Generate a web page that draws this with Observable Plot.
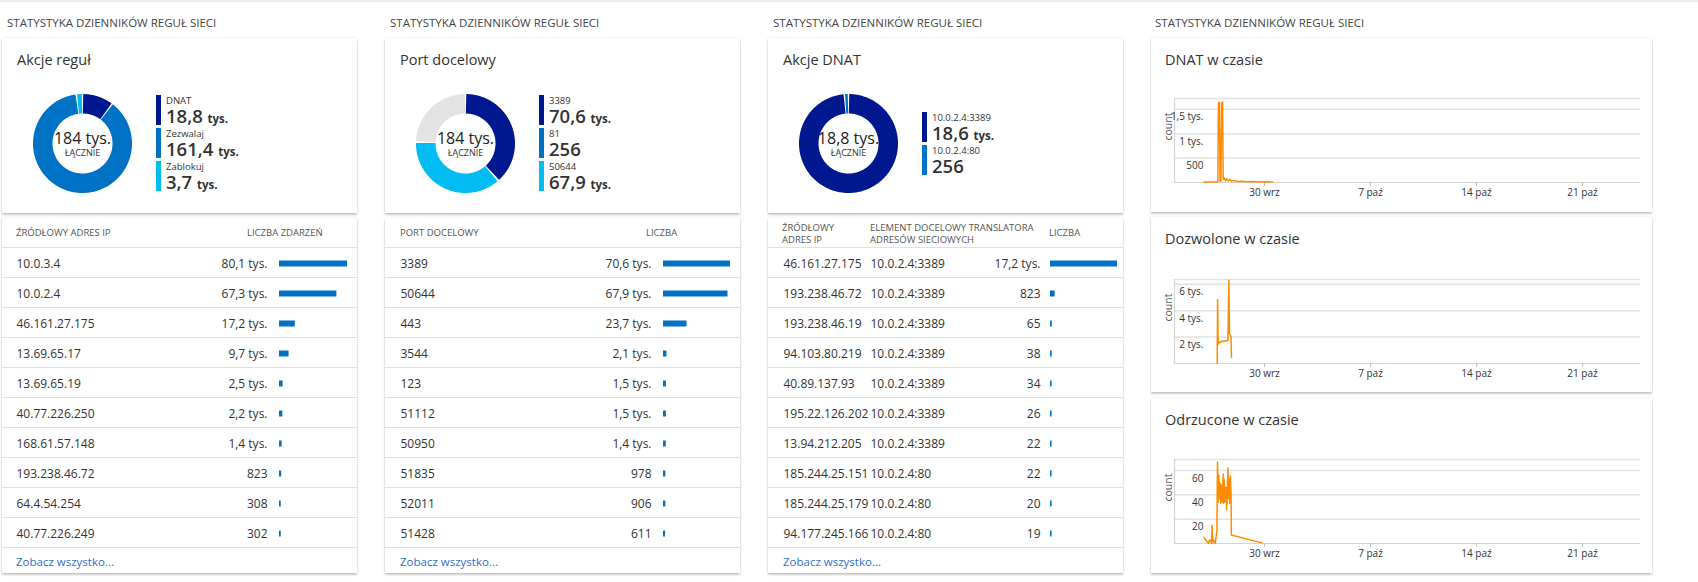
<!DOCTYPE html>
<html><head><meta charset="utf-8">
<script src="https://cdn.jsdelivr.net/npm/d3@7"></script>
<script src="https://cdn.jsdelivr.net/npm/@observablehq/plot@0.6"></script>
<style>
body{margin:0;background:#fff;font-family:"Open Sans",sans-serif;color:#333;}
#page{position:relative;width:1698px;height:582px;overflow:hidden;}
#topline{position:absolute;left:0;top:0;width:1698px;height:2px;background:#ececec}
.sec{position:absolute;font-size:11.5px;line-height:16px;color:#454545;white-space:nowrap}
.card{position:absolute;background:#fff;box-shadow:0 0 2px rgba(0,0,0,0.12),0 1.5px 2px rgba(0,0,0,0.2)}
.ctitle{position:absolute;font-size:14.5px;line-height:20px;color:#333;white-space:nowrap}
.hdr{position:absolute;font-size:9.5px;line-height:12px;color:#555;white-space:nowrap}
.link{position:absolute;font-size:11.5px;line-height:16px;color:#2f6fcf;white-space:nowrap}
.leg{position:absolute;height:30px;border-left:5px solid;padding-left:5px;box-sizing:border-box;white-space:nowrap}
.leg .l{font-size:9.5px;line-height:12px;color:#333}
.leg .v{font-size:18.5px;line-height:18px;font-weight:600;color:#333}
.leg .u{font-size:11.5px;font-weight:700}
.plot{position:absolute}
</style></head>
<body><div id="page"><div id="topline"></div></div>
<script>
// ---------- DATA ----------
const sectionTitle = "STATYSTYKA DZIENNIKÓW REGUŁ SIECI";
const totalWord = "ŁĄCZNIE";
const linkText = "Zobacz wszystko...";

// donut 1: Akcje reguł
const dn1Title = "Akcje reguł";
const dn1Labels = ["DNAT", "Zezwalaj", "Zablokuj"];
const dn1Values = [18836, 161400, 3700];
const dn1Colors = ["#00188f", "#0072c6", "#00bcf2"];

// donut 2: Port docelowy (last slice = others, not in legend)
const dn2Title = "Port docelowy";
const dn2Labels = ["3389", "81", "50644", "inne"];
const dn2Values = [70600, 256, 67900, 45180];
const dn2Colors = ["#00188f", "#0072c6", "#00bcf2", "#e3e3e3"];
const dn2LegendCount = 3;

// donut 3: Akcje DNAT
const dn3Title = "Akcje DNAT";
const dn3Labels = ["10.0.2.4:3389", "10.0.2.4:80"];
const dn3Values = [18580, 256];
const dn3Colors = ["#00188f", "#0072c6"];

// table 1
const t1Headers = ["ŹRÓDŁOWY ADRES IP", "LICZBA ZDARZEŃ"];
const t1Names = ["10.0.3.4", "10.0.2.4", "46.161.27.175", "13.69.65.17", "13.69.65.19", "40.77.226.250", "168.61.57.148", "193.238.46.72", "64.4.54.254", "40.77.226.249"];
const t1Values = [80100, 67300, 17200, 9700, 2500, 2200, 1400, 823, 308, 302];

// table 2
const t2Headers = ["PORT DOCELOWY", "LICZBA"];
const t2Names = ["3389", "50644", "443", "3544", "123", "51112", "50950", "51835", "52011", "51428"];
const t2Values = [70600, 67900, 23700, 2100, 1500, 1500, 1400, 978, 906, 611];

// table 3
const t3Headers = ["ŹRÓDŁOWY<br>ADRES IP", "ELEMENT DOCELOWY TRANSLATORA<br>ADRESÓW SIECIOWYCH", "LICZBA"];
const t3Src = ["46.161.27.175", "193.238.46.72", "193.238.46.19", "94.103.80.219", "40.89.137.93", "195.22.126.202", "13.94.212.205", "185.244.25.151", "185.244.25.179", "94.177.245.166"];
const t3Dst = ["10.0.2.4:3389", "10.0.2.4:3389", "10.0.2.4:3389", "10.0.2.4:3389", "10.0.2.4:3389", "10.0.2.4:3389", "10.0.2.4:3389", "10.0.2.4:80", "10.0.2.4:80", "10.0.2.4:80"];
const t3Values = [17200, 823, 65, 38, 34, 26, 22, 22, 20, 19];

// time series
const xDomain = ["2018-09-24T01:20", "2018-10-24T20:00"];
const xTicks = ["2018-09-30T00:00", "2018-10-07T00:00", "2018-10-14T00:00", "2018-10-21T00:00"];
const monthNames = ["sty", "lut", "mar", "kwi", "maj", "cze", "lip", "sie", "wrz", "paź", "lis", "gru"];

const ts1Title = "DNAT w czasie";
const ts1Times = ["2018-09-26T00:00", "2018-09-26T12:00", "2018-09-26T22:00", "2018-09-26T23:00", "2018-09-27T00:30", "2018-09-27T01:30", "2018-09-27T03:00", "2018-09-27T04:00", "2018-09-27T05:30", "2018-09-27T06:30", "2018-09-27T08:00", "2018-09-27T10:00", "2018-09-27T12:00", "2018-09-27T14:00", "2018-09-27T17:00", "2018-09-27T20:00", "2018-09-28T00:00", "2018-09-28T06:00", "2018-09-28T12:00", "2018-09-28T20:00", "2018-09-29T06:00", "2018-09-29T16:00", "2018-09-30T04:00", "2018-09-30T13:00"];
const ts1Values = [8, 10, 12, 1630, 1640, 20, 30, 1620, 1650, 70, 95, 40, 80, 35, 60, 30, 40, 20, 25, 15, 20, 12, 15, 10];
const ts1YTicks = [500, 1000, 1500];
const ts1YMax = 1720;

const ts2Title = "Dozwolone w czasie";
const ts2Times = ["2018-09-26T21:00", "2018-09-26T21:40", "2018-09-26T22:30", "2018-09-27T00:00", "2018-09-27T02:00", "2018-09-27T04:00", "2018-09-27T06:00", "2018-09-27T08:00", "2018-09-27T10:00", "2018-09-27T12:00", "2018-09-27T14:00", "2018-09-27T15:30", "2018-09-27T16:30", "2018-09-27T18:00", "2018-09-27T19:00", "2018-09-27T19:40"];
const ts2Values = [0, 4850, 1450, 1620, 1580, 1700, 1650, 1720, 1680, 1760, 1750, 6300, 2250, 2150, 2000, 480];
const ts2YTicks = [2000, 4000, 6000];
const ts2YMax = 6360;

const ts3Title = "Odrzucone w czasie";
const ts3Times = ["2018-09-26T00:00", "2018-09-26T07:00", "2018-09-26T09:00", "2018-09-26T12:00", "2018-09-26T13:00", "2018-09-26T14:00", "2018-09-26T15:00", "2018-09-26T17:00", "2018-09-26T18:00", "2018-09-26T19:30", "2018-09-26T20:30", "2018-09-26T21:30", "2018-09-26T22:30", "2018-09-26T23:30", "2018-09-27T00:30", "2018-09-27T01:30", "2018-09-27T02:30", "2018-09-27T03:30", "2018-09-27T05:00", "2018-09-27T06:30", "2018-09-27T07:00", "2018-09-27T08:00", "2018-09-27T09:30", "2018-09-27T11:00", "2018-09-27T12:00", "2018-09-27T13:00", "2018-09-27T14:00", "2018-09-27T15:00", "2018-09-27T16:00", "2018-09-27T17:00", "2018-09-27T18:00", "2018-09-27T19:00", "2018-09-27T19:30", "2018-09-29T20:00"];
const ts3Values = [5, 0, 3, 0, 15, 2, 3, 0, 1, 6, 10, 67, 34, 56, 37, 50, 33, 48, 34, 57, 33, 53, 34, 46, 28, 42, 62, 37, 53, 33, 55, 40, 7, 0.5];
const ts3YTicks = [20, 40, 60];
const ts3YMax = 69;

// ---------- HELPERS ----------
const page = document.getElementById("page");
function el(tag, cls, css, html) {
  const e = document.createElement(tag);
  if (cls) e.className = cls;
  Object.assign(e.style, css);
  if (html != null) e.innerHTML = html;
  page.appendChild(e);
  return e;
}
function place(node, left, top) {
  node.classList.add("plot");
  node.style.left = left + "px";
  node.style.top = top + "px";
  page.appendChild(node);
}
function fmtFull(v) {
  if (v >= 1000) return {n: (Math.round(v / 100) / 10).toFixed(1).replace(".", ","), u: "tys."};
  return {n: String(v), u: ""};
}
function fmtTotal(v) {
  const k = v / 1000;
  const n = k >= 100 ? String(Math.round(k)) : (Math.round(k * 10) / 10).toFixed(1).replace(".", ",");
  return n + " tys.";
}
function fmtTable(v) { const f = fmtFull(v); return f.u ? f.n + " " + f.u : f.n; }
function fmtAxis(v) { return v >= 1000 ? String(v / 1000).replace(".", ",") + " tys." : String(v); }
const plotStyle = {fontFamily: "'Open Sans', sans-serif", fontSize: "10px", color: "#333", background: "transparent", overflow: "visible"};

// ---------- DONUT ----------
function donut(labels, values, colors) {
  const total = d3.sum(values);
  const R = 39.75, SW = 19.5, gap = 1.1 / R;
  const pts = [];
  let cum = 0;
  values.forEach((v, i) => {
    const a0 = cum / total * 2 * Math.PI, a1 = (cum + v) / total * 2 * Math.PI;
    cum += v;
    const b0 = a0 + gap / 2, b1 = a1 - gap / 2;
    if (b1 <= b0) return;
    const n = Math.max(2, Math.ceil((b1 - b0) / 0.02) + 1);
    for (let k = 0; k < n; k++) {
      const a = b0 + (b1 - b0) * k / (n - 1);
      pts.push({s: labels[i], c: colors[i], x: R * Math.sin(a), y: R * Math.cos(a)});
    }
  });
  return Plot.plot({
    width: 110, height: 110, margin: 0,
    x: {domain: [-55, 55], axis: null}, y: {domain: [-55, 55], axis: null},
    color: {type: "identity"},
    style: plotStyle,
    marks: [
      Plot.line(pts, {x: "x", y: "y", z: "s", stroke: "c", strokeWidth: SW, strokeLinecap: "butt", strokeLinejoin: "round"}),
      Plot.text([fmtTotal(total)], {text: d => d, frameAnchor: "middle", dy: -5, fontSize: 16, fill: "#222"}),
      Plot.text([totalWord], {text: d => d, frameAnchor: "middle", dy: 10, fontSize: 9, fill: "#333"})
    ]
  });
}
function legend(labels, values, colors, count, left, top) {
  for (let i = 0; i < count; i++) {
    const f = fmtFull(values[i]);
    el("div", "leg", {left: left + "px", top: (top + i * 33) + "px", borderLeftColor: colors[i]},
      `<div class="l">${labels[i]}</div><div class="v">${f.n}${f.u ? ' <span class="u">' + f.u + '</span>' : ''}</div>`);
  }
}

// ---------- TABLE ----------
function table(cols, colDx, values, valueDx, barRange) {
  const rows = values.map((v, i) => ({i, v, c: cols.map(c => c[i])}));
  const marks = [
    Plot.ruleY(rows, {y: d => d.i, stroke: "#e0e0e0", strokeWidth: 1}),
    Plot.ruleY(rows, {y: d => d.i + 1, stroke: "#e0e0e0", strokeWidth: 1})
  ];
  cols.forEach((c, j) => {
    marks.push(Plot.text(rows, {y: d => d.i + 0.55, frameAnchor: "left", dx: colDx[j], text: d => d.c[j], textAnchor: "start", fontSize: 12, fill: "#333"}));
  });
  marks.push(Plot.text(rows, {x: 0, y: d => d.i + 0.55, text: d => fmtTable(d.v), textAnchor: "end", dx: valueDx, fontSize: 12, fill: "#333"}));
  marks.push(Plot.rect(rows, {x1: 0, x2: "v", y1: d => d.i + 0.45, y2: d => d.i + 0.65, fill: "#0072c6", insetRight: -1.5}));
  return Plot.plot({
    width: 355, height: 302, marginTop: 1, marginBottom: 1, marginLeft: 0, marginRight: 0,
    x: {domain: [0, d3.max(values)], range: barRange, axis: null},
    y: {domain: [0, 10], reverse: true, axis: null},
    style: plotStyle,
    marks
  });
}

// ---------- TIME SERIES ----------
function tsChart(times, values, yTicks, yMax) {
  const data = times.map((t, i) => ({t: new Date(t), v: values[i]}));
  const x0 = new Date(xDomain[0]);
  return Plot.plot({
    width: 501, height: 116, marginLeft: 23, marginRight: 12, marginTop: 6, marginBottom: 26,
    x: {type: "time", domain: xDomain.map(d => new Date(d)), label: null},
    y: {domain: [0, yMax], label: null},
    style: plotStyle,
    marks: [
      Plot.gridY(yTicks, {stroke: "#e2e2e2", strokeOpacity: 1, strokeWidth: 1.5}),
      Plot.ruleY([yMax], {stroke: "#e2e2e2", strokeWidth: 1.5}),
      Plot.ruleY([0], {stroke: "#d4d4d4", strokeWidth: 1.2}),
      Plot.ruleX([x0], {stroke: "#d4d4d4", strokeWidth: 1.2}),
      Plot.axisX(xTicks.map(d => new Date(d)), {tickSize: 4, tickPadding: 2, stroke: "#bbb", fill: "#333", fontSize: 10, label: null,
        tickFormat: d => d.getDate() + " " + monthNames[d.getMonth()]}),
      Plot.axisY(yTicks, {anchor: "left", tickSize: 0, tickPadding: 0, dx: 29, dy: 8, fill: "#333", fontSize: 10, label: null, tickFormat: fmtAxis}),
      Plot.text(["count"], {text: d => d, frameAnchor: "left", rotate: -90, dx: -6, fontSize: 10.5, fill: "#555"}),
      Plot.line(data, {x: "t", y: "v", stroke: "#ff8c00", strokeWidth: 1.5})
    ]
  });
}

// ---------- LAYOUT ----------
[7, 390, 773, 1155].forEach(x => el("div", "sec", {left: x + "px", top: "15px"}, sectionTitle));

// donut cards
const donutCards = [
  {left: 2, title: dn1Title, labels: dn1Labels, values: dn1Values, colors: dn1Colors, n: 3, legTop: 95},
  {left: 385, title: dn2Title, labels: dn2Labels, values: dn2Values, colors: dn2Colors, n: dn2LegendCount, legTop: 95},
  {left: 768, title: dn3Title, labels: dn3Labels, values: dn3Values, colors: dn3Colors, n: 2, legTop: 112}
];
donutCards.forEach(c => {
  el("div", "card", {left: c.left + "px", top: "38px", width: "355px", height: "175px"});
  el("div", "ctitle", {left: (c.left + 15) + "px", top: "50px"}, c.title);
  place(donut(c.labels, c.values, c.colors), c.left + 25, 88);
  legend(c.labels, c.values, c.colors, c.n, c.left + 154, c.legTop);
});

// table cards
[2, 385, 768].forEach(l => el("div", "card", {left: l + "px", top: "218px", width: "355px", height: "355px"}));
el("div", "hdr", {left: "16px", top: "227px"}, t1Headers[0]);
el("div", "hdr", {left: "247px", top: "227px"}, t1Headers[1]);
el("div", "hdr", {left: "400px", top: "227px"}, t2Headers[0]);
el("div", "hdr", {left: "646px", top: "227px"}, t2Headers[1]);
el("div", "hdr", {left: "782px", top: "222px"}, t3Headers[0]);
el("div", "hdr", {left: "870px", top: "222px"}, t3Headers[1]);
el("div", "hdr", {left: "1049px", top: "227px"}, t3Headers[2]);
place(table([t1Names], [14], t1Values, -12, [277, 343.5]), 2, 246);
place(table([t2Names], [15], t2Values, -12, [278, 343.5]), 385, 246);
place(table([t3Src, t3Dst], [15, 102], t3Values, -10, [282, 347.5]), 768, 246);
[16, 400, 783].forEach(x => el("div", "link", {left: x + "px", top: "554px"}, linkText));

// time series cards
const tsCards = [
  {top: 38, h: 174, title: ts1Title, t: ts1Times, v: ts1Values, ticks: ts1YTicks, max: ts1YMax, svgTop: 92},
  {top: 217, h: 175, title: ts2Title, t: ts2Times, v: ts2Values, ticks: ts2YTicks, max: ts2YMax, svgTop: 273},
  {top: 398, h: 175, title: ts3Title, t: ts3Times, v: ts3Values, ticks: ts3YTicks, max: ts3YMax, svgTop: 453}
];
tsCards.forEach(c => {
  el("div", "card", {left: "1151px", top: c.top + "px", width: "501px", height: c.h + "px"});
  el("div", "ctitle", {left: "1165px", top: (c.top + 12) + "px"}, c.title);
  place(tsChart(c.t, c.v, c.ticks, c.max), 1151, c.svgTop);
});
</script></body></html>
